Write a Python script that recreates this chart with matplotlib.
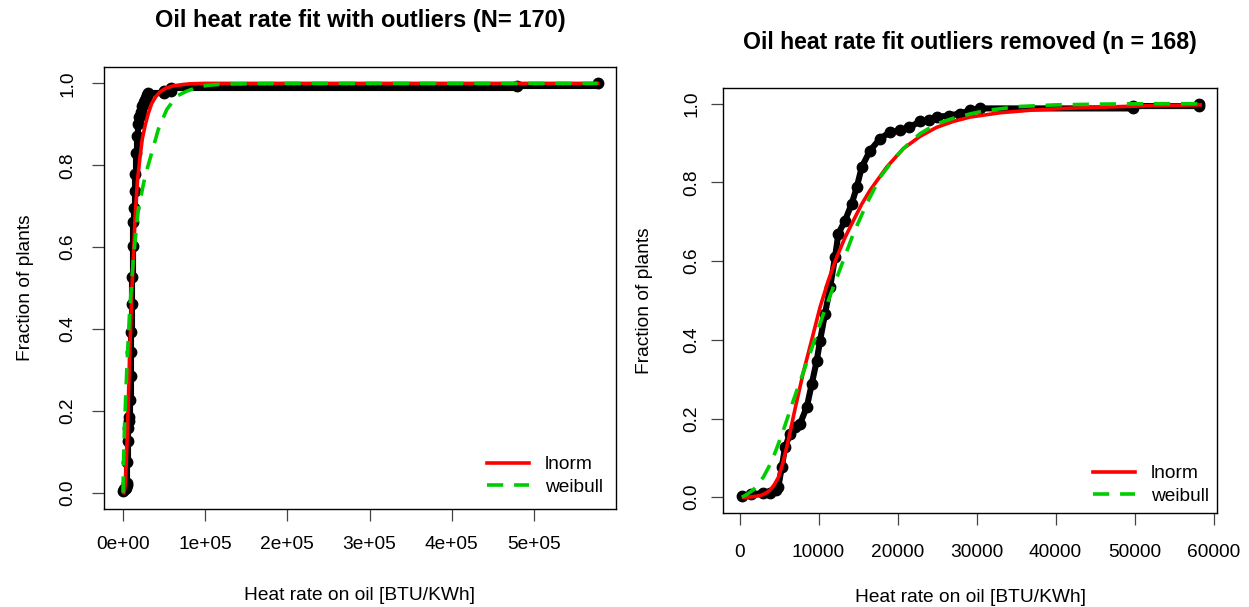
import numpy as np
import matplotlib.pyplot as plt

plt.rcParams['font.family'] = ['Liberation Sans', 'DejaVu Sans']

ecdf_x = [300, 1500, 3000, 3900, 4600, 4900, 5340, 5760, 6390, 7000, 7660, 8510,
          9140, 9770, 10190, 10820, 11460, 12090, 12510, 13350, 14200, 14840,
          15470, 16520, 17790, 19050, 20320, 21500, 22850, 24000, 24960, 26500,
          27910, 29180, 30440, 49800, 49800, 58100, 58100]
ecdf_frac = [0.004, 0.008, 0.010, 0.012, 0.018, 0.025, 0.076, 0.127, 0.161, 0.178,
             0.187, 0.229, 0.288, 0.347, 0.398, 0.466, 0.534, 0.610, 0.670, 0.703,
             0.746, 0.788, 0.839, 0.881, 0.911, 0.928, 0.932, 0.940, 0.955, 0.958,
             0.966, 0.970, 0.975, 0.983, 0.988, 0.988, 0.994, 0.994, 1.0]

# the two outliers that only show up in the left panel
outlier_x = [480000, 577500]
n_all = 170
n_clean = 168

# fitted curves, outliers removed (right panel)
lnorm_x = [500, 1500, 2600, 3300, 3860, 4400, 4910, 5450, 5970, 6500, 7030, 8080,
           9140, 10190, 11240, 12300, 13350, 14410, 15470, 16520, 18630, 20740,
           22850, 24960, 27060, 29180, 32970, 37160, 41000, 45630, 52000, 58300]
lnorm_y = [0.000, 0.001, 0.004, 0.010, 0.018, 0.032, 0.050, 0.085, 0.127, 0.175,
           0.225, 0.318, 0.400, 0.483, 0.551, 0.610, 0.660, 0.703, 0.745, 0.780,
           0.839, 0.886, 0.917, 0.940, 0.955, 0.966, 0.977, 0.984, 0.988, 0.991,
           0.995, 0.997]
weib_x = [300, 1000, 1750, 2400, 3010, 3650, 4280, 4900, 5540, 6180, 6810, 8080,
          9340, 10610, 11870, 13140, 14410, 16100, 17790, 19470, 20740, 22850,
          24960, 27060, 29180, 31290, 35510, 40000, 46000, 52000, 58300]
weib_y = [0.0, 0.008, 0.019, 0.035, 0.051, 0.075, 0.102, 0.135, 0.170, 0.208,
          0.246, 0.318, 0.390, 0.466, 0.534, 0.602, 0.670, 0.746, 0.813, 0.858,
          0.886, 0.924, 0.949, 0.963, 0.974, 0.983, 0.993, 0.997, 0.999, 1.0, 1.0]

# fitted curves with outliers (left panel)
lnorm_all_x = [1000, 2000, 3000, 4000, 5000, 6000, 7000, 8000, 9000, 10000, 11000,
               12500, 14600, 17500, 20700, 23500, 26800, 30500, 34900, 40000, 45000,
               52000, 61200, 72000, 81500, 100000, 150000, 300000, 577500]
lnorm_all_y = [0.0, 0.008, 0.03, 0.076, 0.13, 0.19, 0.26, 0.33, 0.39, 0.45, 0.505,
               0.57, 0.67, 0.76, 0.82, 0.865, 0.896, 0.925, 0.951, 0.968, 0.979,
               0.988, 0.994, 0.997, 0.999, 1.0, 1.0, 1.0, 1.0]
weib_all_x = [0, 500, 1000, 2000, 3000, 5000, 8000, 12500, 18600, 26800, 34900,
              43000, 53200, 65400, 77500, 90000, 101900, 120000, 142000, 200000,
              300000, 577500]
weib_all_y = [0.0, 0.06, 0.1, 0.17, 0.22, 0.32, 0.44, 0.57, 0.692, 0.773, 0.83,
              0.888, 0.936, 0.969, 0.981, 0.99, 0.995, 0.998, 0.999, 1.0, 1.0, 1.0]

yticks = [0.0, 0.2, 0.4, 0.6, 0.8, 1.0]
xticks_left = [0, 100000, 200000, 300000, 400000, 500000]
xlabels_left = ['0e+00', '1e+05', '2e+05', '3e+05', '4e+05', '5e+05']
xticks_right = [0, 10000, 20000, 30000, 40000, 50000, 60000]
xlabels_right = ['0', '10000', '20000', '30000', '40000', '50000', '60000']

red = '#ff0000'
green = '#00cd00'
fs = 13.8

fig = plt.figure(figsize=(12.49, 6.07), dpi=100)
ax1 = fig.add_axes([0.0829, 0.1614, 0.4103, 0.7282])
ax2 = fig.add_axes([0.5789, 0.1549, 0.3955, 0.7002])


def style(ax, xt, xl, xlim, xpad, ypad, xlab_y, ylab_x):
    ax.set_xlim(xlim)
    ax.set_ylim(-0.04, 1.04)
    ax.set_xticks(xt)
    ax.set_xticklabels(xl, fontsize=fs)
    ax.set_yticks(yticks)
    ax.set_yticklabels(['%.1f' % v for v in yticks], fontsize=fs,
                       rotation=90, va='center')
    ax.tick_params(axis='x', length=8.5, width=0.9, color='#444444', pad=xpad)
    ax.tick_params(axis='y', length=8.5, width=0.9, color='#444444', pad=ypad)
    for s in ax.spines.values():
        s.set_linewidth(1.0)
    ax.set_xlabel('Heat rate on oil [BTU/KWh]', fontsize=fs)
    ax.set_ylabel('Fraction of plants', fontsize=fs)
    ax.xaxis.set_label_coords(0.5, xlab_y)
    ax.xaxis.label.set_va('center')
    ax.yaxis.set_label_coords(ylab_x, 0.5)
    ax.yaxis.label.set_va('center')


# left panel: all 170 plants
x_all = ecdf_x + outlier_x
y_all = [f * n_clean / n_all for f in ecdf_frac] + [169 / n_all, 1.0]
ax1.plot(x_all, y_all, color='black', lw=4.4, marker='o', ms=7.5,
         drawstyle='steps-post', solid_capstyle='round', solid_joinstyle='round',
         zorder=2)
ax1.plot(lnorm_all_x, lnorm_all_y, color=red, lw=2.6, label='lnorm', zorder=3)
ax1.plot(weib_all_x, weib_all_y, color=green, lw=2.6, ls=(0, (4.5, 3.0)),
         label='weibull', zorder=4)
style(ax1, xticks_left, xlabels_left, (-23700, 600000), 11, 11, -0.195, -0.153)
ax1.legend(loc='lower right', bbox_to_anchor=(1.0, 0.0), frameon=False,
           fontsize=fs, handlelength=2.2, handletextpad=0.8, labelspacing=0.25,
           borderaxespad=0.3)

# right panel: outliers removed
ax2.plot(ecdf_x, ecdf_frac, color='black', lw=4.4, marker='o', ms=7.5,
         solid_capstyle='round', solid_joinstyle='round', zorder=2)
ax2.plot(lnorm_x, lnorm_y, color=red, lw=2.6, label='lnorm', zorder=3)
ax2.plot(weib_x, weib_y, color=green, lw=2.6, ls=(0, (4.5, 3.0)),
         label='weibull', zorder=4)
style(ax2, xticks_right, xlabels_right, (-2090, 60440), 14, 8, -0.2, -0.158)
ax2.legend(loc='lower right', bbox_to_anchor=(1.01, -0.012), frameon=False,
           fontsize=fs, handlelength=2.2, handletextpad=0.8, labelspacing=0.25,
           borderaxespad=0.3)

fig.text(360 / 1249, 1 - 21 / 607, 'Oil heat rate fit with outliers (N= 170)',
         ha='center', va='center', fontsize=17, fontweight='bold')
fig.text(970 / 1249, 1 - 42 / 607, 'Oil heat rate fit outliers removed (n = 168)',
         ha='center', va='center', fontsize=16.7, fontweight='bold')

fig.savefig('out.png', dpi=100)
